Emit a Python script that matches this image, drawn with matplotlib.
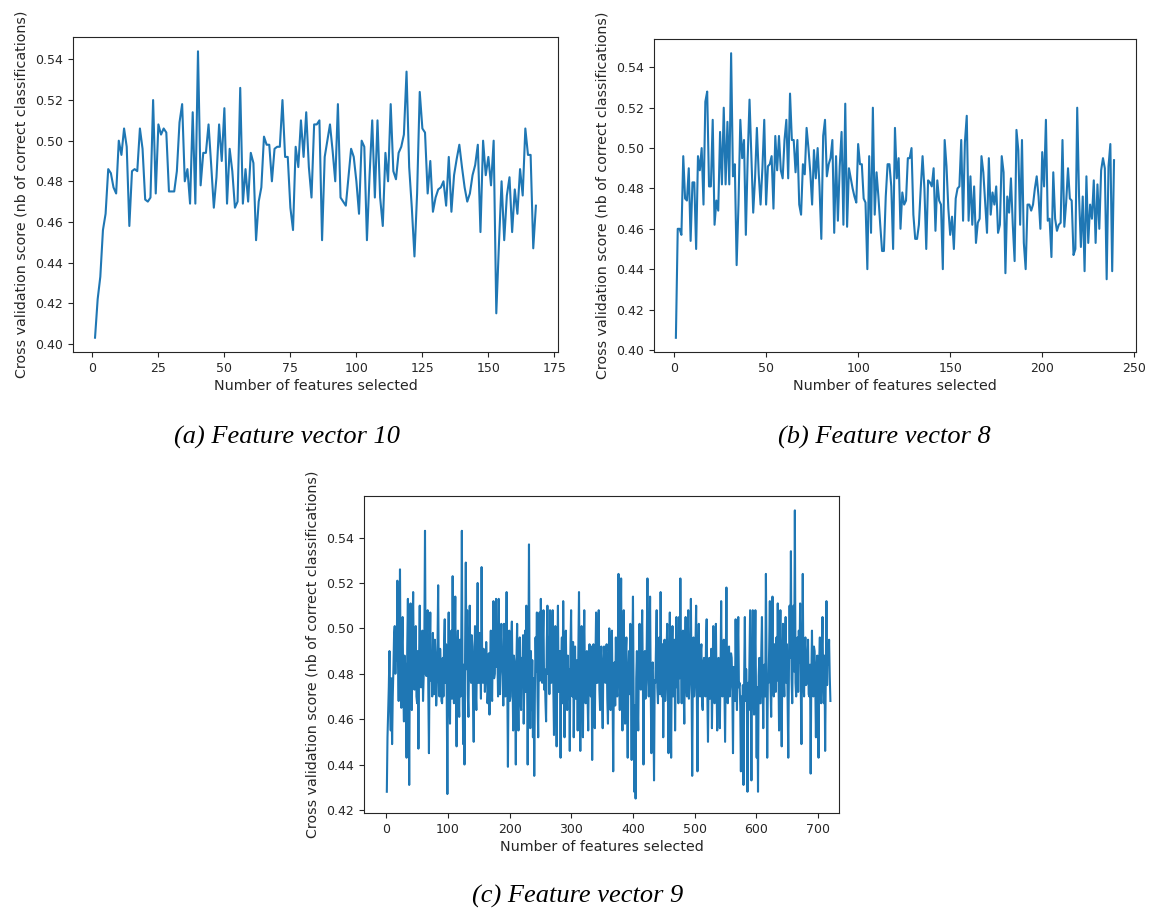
import numpy as np
import matplotlib.pyplot as plt

# RFECV cross validation scores, one value per number of selected features
scores_fv10 = [
    0.403, 0.422, 0.433, 0.456, 0.464, 0.486, 0.484, 0.477, 0.474, 0.500,
    0.493, 0.506, 0.497, 0.458, 0.485, 0.486, 0.485, 0.506, 0.496, 0.471,
    0.470, 0.472, 0.520, 0.474, 0.508, 0.503, 0.506, 0.504, 0.475, 0.475,
    0.475, 0.485, 0.509, 0.518, 0.480, 0.486, 0.469, 0.514, 0.469, 0.544,
    0.478, 0.494, 0.494, 0.508, 0.488, 0.467, 0.482, 0.508, 0.490, 0.516,
    0.469, 0.496, 0.485, 0.467, 0.470, 0.526, 0.469, 0.486, 0.470, 0.494,
    0.489, 0.451, 0.470, 0.477, 0.502, 0.498, 0.498, 0.480, 0.496, 0.497,
    0.497, 0.520, 0.492, 0.492, 0.467, 0.456, 0.497, 0.487, 0.510, 0.492,
    0.514, 0.487, 0.472, 0.508, 0.508, 0.510, 0.451, 0.492, 0.500, 0.508,
    0.495, 0.480, 0.518, 0.472, 0.470, 0.468, 0.482, 0.496, 0.492, 0.480,
    0.464, 0.500, 0.497, 0.451, 0.483, 0.510, 0.472, 0.510, 0.472, 0.458,
    0.494, 0.480, 0.518, 0.485, 0.481, 0.494, 0.497, 0.503, 0.534, 0.487,
    0.467, 0.443, 0.474, 0.524, 0.506, 0.504, 0.474, 0.490, 0.465, 0.472,
    0.476, 0.477, 0.480, 0.468, 0.492, 0.465, 0.483, 0.491, 0.498, 0.487,
    0.477, 0.470, 0.474, 0.483, 0.488, 0.498, 0.455, 0.500, 0.483, 0.492,
    0.478, 0.500, 0.415, 0.449, 0.480, 0.451, 0.473, 0.482, 0.455, 0.476,
    0.464, 0.486, 0.473, 0.506, 0.493, 0.493, 0.447, 0.468,
]

scores_fv8 = [
    0.406, 0.460, 0.460, 0.457, 0.496, 0.475, 0.474, 0.490, 0.454, 0.483,
    0.483, 0.450, 0.496, 0.489, 0.500, 0.472, 0.523, 0.528, 0.481, 0.481,
    0.514, 0.462, 0.474, 0.469, 0.508, 0.482, 0.520, 0.482, 0.513, 0.482,
    0.547, 0.486, 0.492, 0.442, 0.472, 0.514, 0.495, 0.504, 0.457, 0.495,
    0.524, 0.496, 0.468, 0.485, 0.510, 0.487, 0.472, 0.490, 0.514, 0.472,
    0.491, 0.492, 0.496, 0.470, 0.506, 0.489, 0.506, 0.489, 0.485, 0.504,
    0.514, 0.485, 0.527, 0.504, 0.504, 0.488, 0.504, 0.472, 0.467, 0.492,
    0.487, 0.510, 0.500, 0.488, 0.472, 0.499, 0.485, 0.500, 0.481, 0.455,
    0.506, 0.514, 0.486, 0.492, 0.495, 0.504, 0.458, 0.496, 0.464, 0.491,
    0.508, 0.462, 0.522, 0.461, 0.490, 0.485, 0.480, 0.476, 0.473, 0.502,
    0.492, 0.492, 0.475, 0.473, 0.440, 0.496, 0.458, 0.520, 0.467, 0.488,
    0.476, 0.462, 0.449, 0.449, 0.476, 0.492, 0.492, 0.481, 0.450, 0.510,
    0.485, 0.495, 0.460, 0.478, 0.472, 0.474, 0.495, 0.495, 0.500, 0.467,
    0.455, 0.455, 0.462, 0.480, 0.496, 0.480, 0.450, 0.484, 0.483, 0.481,
    0.490, 0.459, 0.484, 0.474, 0.472, 0.440, 0.504, 0.491, 0.470, 0.457,
    0.466, 0.450, 0.475, 0.480, 0.481, 0.504, 0.464, 0.503, 0.516, 0.464,
    0.486, 0.462, 0.481, 0.453, 0.463, 0.465, 0.496, 0.488, 0.473, 0.458,
    0.495, 0.467, 0.478, 0.472, 0.481, 0.458, 0.462, 0.496, 0.488, 0.438,
    0.476, 0.468, 0.485, 0.462, 0.444, 0.509, 0.499, 0.462, 0.504, 0.453,
    0.440, 0.472, 0.472, 0.469, 0.472, 0.480, 0.486, 0.476, 0.460, 0.498,
    0.481, 0.514, 0.464, 0.465, 0.446, 0.488, 0.465, 0.459, 0.462, 0.463,
    0.504, 0.461, 0.473, 0.490, 0.475, 0.474, 0.447, 0.450, 0.520, 0.476,
    0.451, 0.476, 0.439, 0.486, 0.453, 0.472, 0.465, 0.484, 0.453, 0.482,
    0.460, 0.489, 0.495, 0.490, 0.435, 0.491, 0.502, 0.439, 0.494,
]

# feature vector 9 has 720 features; scores sampled along the run
n_features_fv9 = 720
scores_fv9 = [
    0.428, 0.452, 0.463, 0.474, 0.490, 0.466, 0.455, 0.478, 0.449, 0.470,
    0.482, 0.497, 0.501, 0.480, 0.499, 0.486, 0.521, 0.484, 0.468, 0.492,
    0.526, 0.478, 0.465, 0.494, 0.505, 0.472, 0.459, 0.488, 0.483, 0.469,
    0.443, 0.491, 0.513, 0.476, 0.431, 0.484, 0.511, 0.470, 0.464, 0.497,
    0.516, 0.481, 0.473, 0.496, 0.501, 0.470, 0.467, 0.490, 0.447, 0.486,
    0.510, 0.475, 0.474, 0.493, 0.499, 0.468, 0.479, 0.495, 0.543, 0.480,
    0.479, 0.498, 0.508, 0.473, 0.445, 0.489, 0.507, 0.477, 0.485, 0.470,
    0.498, 0.481, 0.471, 0.495, 0.487, 0.466, 0.475, 0.492, 0.519, 0.478,
    0.470, 0.491, 0.482, 0.468, 0.467, 0.487, 0.470, 0.494, 0.504, 0.476,
    0.493, 0.472, 0.427, 0.483, 0.507, 0.474, 0.458, 0.490, 0.499, 0.469,
    0.523, 0.479, 0.467, 0.492, 0.514, 0.475, 0.448, 0.487, 0.499, 0.470,
    0.461, 0.495, 0.470, 0.488, 0.543, 0.477, 0.449, 0.484, 0.440, 0.493,
    0.529, 0.482, 0.508, 0.471, 0.461, 0.490, 0.510, 0.479, 0.476, 0.497,
    0.492, 0.468, 0.450, 0.486, 0.501, 0.473, 0.464, 0.494, 0.520, 0.476,
    0.476, 0.498, 0.486, 0.469, 0.527, 0.480, 0.476, 0.491, 0.485, 0.472,
    0.482, 0.494, 0.485, 0.467, 0.474, 0.489, 0.462, 0.485, 0.499, 0.474,
    0.468, 0.493, 0.512, 0.478, 0.480, 0.496, 0.513, 0.483, 0.489, 0.470,
    0.513, 0.477, 0.471, 0.492, 0.502, 0.484, 0.479, 0.466, 0.502, 0.481,
    0.470, 0.489, 0.516, 0.475, 0.439, 0.481, 0.499, 0.468, 0.470, 0.494,
    0.503, 0.479, 0.455, 0.488, 0.485, 0.471, 0.440, 0.486, 0.502, 0.474,
    0.455, 0.491, 0.496, 0.469, 0.464, 0.487, 0.482, 0.497, 0.458, 0.478,
    0.499, 0.472, 0.510, 0.485, 0.440, 0.480, 0.537, 0.476, 0.456, 0.490,
    0.464, 0.486, 0.452, 0.478, 0.435, 0.472, 0.496, 0.481, 0.507, 0.470,
    0.452, 0.489, 0.507, 0.477, 0.513, 0.486, 0.476, 0.494, 0.508, 0.473,
    0.482, 0.468, 0.459, 0.492, 0.510, 0.480, 0.496, 0.471, 0.508, 0.484,
    0.476, 0.495, 0.508, 0.474, 0.453, 0.488, 0.501, 0.478, 0.448, 0.483,
    0.510, 0.472, 0.476, 0.490, 0.443, 0.485, 0.496, 0.467, 0.512, 0.479,
    0.452, 0.493, 0.499, 0.476, 0.464, 0.488, 0.471, 0.482, 0.446, 0.491,
    0.508, 0.475, 0.470, 0.494, 0.452, 0.480, 0.492, 0.469, 0.473, 0.486,
    0.455, 0.490, 0.516, 0.477, 0.446, 0.484, 0.501, 0.471, 0.452, 0.487,
    0.508, 0.479, 0.467, 0.489, 0.490, 0.470, 0.455, 0.483, 0.493, 0.474,
    0.470, 0.492, 0.442, 0.481, 0.493, 0.468, 0.456, 0.486, 0.507, 0.476,
    0.476, 0.494, 0.508, 0.473, 0.464, 0.487, 0.492, 0.470, 0.456, 0.483,
    0.492, 0.478,
    0.476, 0.490, 0.493, 0.469, 0.458, 0.484, 0.500, 0.475, 0.464, 0.491,
    0.499, 0.472, 0.437, 0.480, 0.485, 0.466, 0.496, 0.477, 0.470, 0.488,
    0.524, 0.481, 0.464, 0.493, 0.522, 0.474, 0.455, 0.486, 0.508, 0.470,
    0.458, 0.489, 0.496, 0.467, 0.443, 0.479, 0.490, 0.471, 0.502, 0.476,
    0.442, 0.485, 0.514, 0.470, 0.428, 0.466, 0.425, 0.478, 0.490, 0.468,
    0.455, 0.487, 0.502, 0.475, 0.473, 0.492, 0.508, 0.479, 0.440, 0.483,
    0.490, 0.469, 0.476, 0.494, 0.522, 0.480, 0.470, 0.488, 0.514, 0.473,
    0.445, 0.482, 0.485, 0.466, 0.433, 0.477, 0.476, 0.491, 0.508, 0.474,
    0.467, 0.486, 0.496, 0.471, 0.516, 0.482, 0.470, 0.493, 0.452, 0.479,
    0.495, 0.468, 0.476, 0.489, 0.502, 0.475, 0.445, 0.484, 0.507, 0.472,
    0.443, 0.487, 0.501, 0.470, 0.479, 0.495, 0.455, 0.481, 0.505, 0.474,
    0.485, 0.467, 0.505, 0.478, 0.522, 0.486, 0.467, 0.490, 0.499, 0.473,
    0.458, 0.489, 0.505, 0.476, 0.470, 0.492, 0.508, 0.469, 0.476, 0.485,
    0.513, 0.478, 0.435, 0.481, 0.496, 0.470, 0.476, 0.493, 0.510, 0.474,
    0.437, 0.480, 0.502, 0.472, 0.470, 0.490, 0.493, 0.467, 0.464, 0.485,
    0.487, 0.476, 0.470, 0.494, 0.504, 0.471, 0.450, 0.482, 0.487, 0.469,
    0.470, 0.491, 0.456, 0.478, 0.501, 0.473, 0.467, 0.488, 0.502, 0.475,
    0.455, 0.484, 0.487, 0.468, 0.456, 0.480, 0.512, 0.477, 0.470, 0.492,
    0.495, 0.474, 0.450, 0.486, 0.518, 0.479, 0.467, 0.491, 0.492, 0.470,
    0.476, 0.489, 0.487, 0.472, 0.445, 0.483, 0.482, 0.468, 0.504, 0.478,
    0.464, 0.488, 0.505, 0.474, 0.476, 0.466, 0.437, 0.470, 0.452, 0.475,
    0.431, 0.479, 0.505, 0.468, 0.482, 0.472, 0.428, 0.476, 0.464, 0.486,
    0.508, 0.473, 0.433, 0.480, 0.508, 0.477, 0.462, 0.485, 0.508, 0.470,
    0.443, 0.474, 0.428, 0.479, 0.487, 0.467, 0.467, 0.490, 0.505, 0.476,
    0.456, 0.481, 0.484, 0.470, 0.524, 0.486, 0.443, 0.478, 0.476, 0.492,
    0.512, 0.475, 0.461, 0.489, 0.514, 0.480, 0.470, 0.493, 0.485, 0.472,
    0.496, 0.477, 0.511, 0.484, 0.455, 0.490, 0.508, 0.472, 0.448, 0.486,
    0.502, 0.479, 0.470, 0.494, 0.505, 0.476, 0.493, 0.469, 0.443, 0.482,
    0.510, 0.487, 0.534, 0.478, 0.467, 0.493, 0.510, 0.481, 0.552, 0.476,
    0.470, 0.489, 0.496, 0.472, 0.499, 0.485, 0.511, 0.474, 0.449, 0.488,
    0.524, 0.479, 0.470, 0.491, 0.496, 0.475, 0.476, 0.487, 0.495, 0.471,
    0.470, 0.484, 0.436, 0.478, 0.499, 0.473, 0.470, 0.492, 0.490, 0.476,
    0.452, 0.482, 0.488, 0.470, 0.443, 0.486, 0.496, 0.474, 0.467, 0.490,
    0.505, 0.477, 0.467, 0.488, 0.446, 0.480, 0.512, 0.475, 0.493, 0.484,
    0.495, 0.479, 0.468,
]

ylabel_text = 'Cross validation score (nb of correct classifications)'
xlabel_text = 'Number of features selected'

plt.rcParams['font.family'] = ['DejaVu Sans']
plt.rcParams['text.color'] = '#262626'
plt.rcParams['axes.labelcolor'] = '#262626'
plt.rcParams['xtick.color'] = '#262626'
plt.rcParams['ytick.color'] = '#262626'
plt.rcParams['axes.edgecolor'] = '#262626'


def draw_panel(ax, x, y, xticks, yticks, xlim=None):
    ax.plot(x, y, color='#1f77b4', linewidth=1.5)
    ax.set_xticks(xticks)
    ax.set_yticks(yticks)
    ax.set_yticklabels(['%.2f' % v for v in yticks])
    if xlim is not None:
        ax.set_xlim(*xlim)
    ax.tick_params(labelsize=9)
    ax.set_xlabel(xlabel_text, fontsize=10.3, labelpad=3)
    ax.set_ylabel(ylabel_text, fontsize=10.3, labelpad=5)


fig = plt.figure(figsize=(11.53, 9.11), dpi=100)

ax_a = fig.add_axes([0.0633, 0.6136, 0.4206, 0.3458])
draw_panel(ax_a, np.arange(1, len(scores_fv10) + 1), scores_fv10,
           np.arange(0, 176, 25), np.arange(0.40, 0.545, 0.02))

ax_b = fig.add_axes([0.5672, 0.6136, 0.4180, 0.3436])
draw_panel(ax_b, np.arange(1, len(scores_fv8) + 1), scores_fv8,
           np.arange(0, 251, 50), np.arange(0.40, 0.545, 0.02))

ax_c = fig.add_axes([0.3157, 0.1076, 0.4120, 0.3480])
draw_panel(ax_c, np.linspace(1, n_features_fv9, len(scores_fv9)), scores_fv9,
           np.arange(0, 701, 100), np.arange(0.42, 0.545, 0.02),
           xlim=(-36, 734))

caption_style = dict(fontsize=19, style='italic', family='Liberation Serif',
                     color='black', ha='center', va='center')
fig.text(287 / 1153, 1 - 437 / 911, '(a) Feature vector 10', **caption_style)
fig.text(884 / 1153, 1 - 437 / 911, '(b) Feature vector 8', **caption_style)
fig.text(578 / 1153, 1 - 896 / 911, '(c) Feature vector 9', **caption_style)

fig.savefig('out.png', dpi=100)
